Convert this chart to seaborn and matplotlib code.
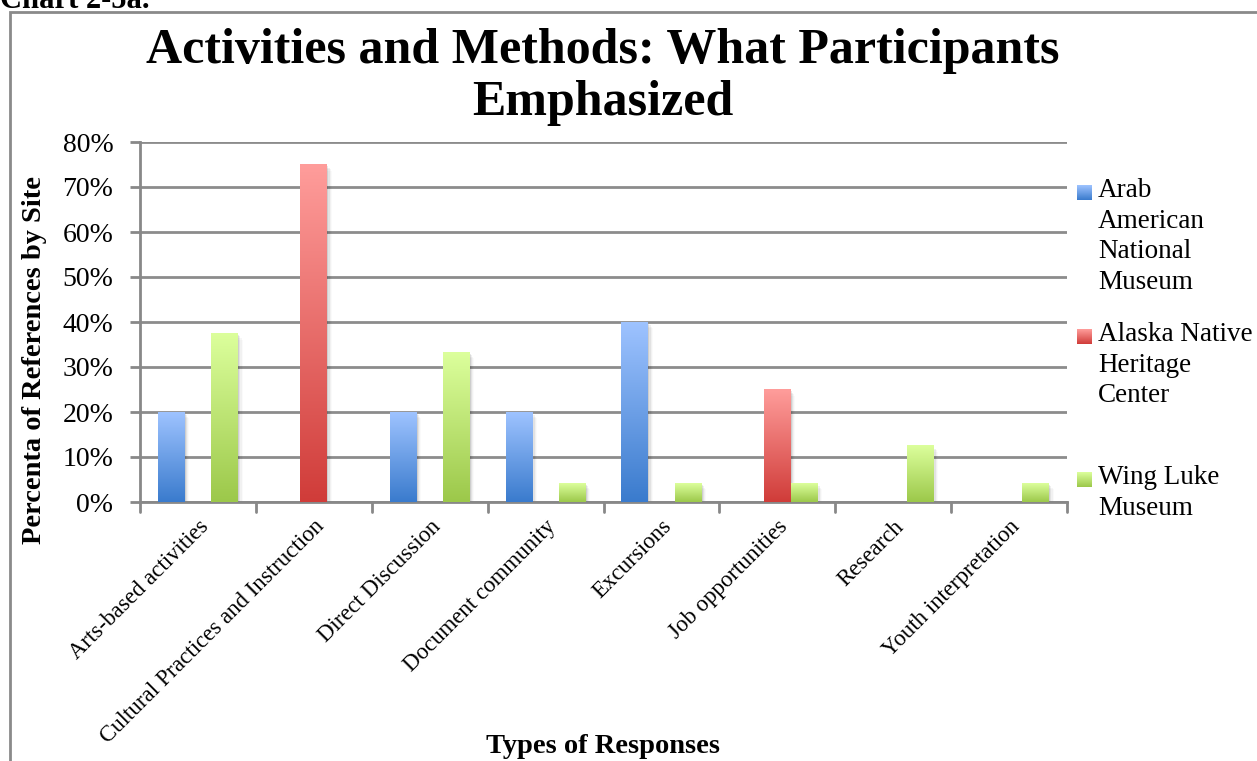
import numpy as np
import pandas as pd
import matplotlib
matplotlib.use("Agg")
import matplotlib.pyplot as plt
import seaborn as sns
from matplotlib.patches import Rectangle
from matplotlib.colors import LinearSegmentedColormap

# Data
categories = [
    "Arts-based activities",
    "Cultural Practices and Instruction",
    "Direct Discussion",
    "Document community",
    "Excursions",
    "Job opportunities",
    "Research",
    "Youth interpretation",
]
sites = ["Arab American National Museum", "Alaska Native Heritage Center", "Wing Luke Museum"]
legend_labels = ["Arab\nAmerican\nNational\nMuseum", "Alaska Native\nHeritage\nCenter", "Wing Luke\nMuseum"]
arab_values = [20.0, 0.0, 20.0, 20.0, 40.0, 0.0, 0.0, 0.0]
alaska_values = [0.0, 75.0, 0.0, 0.0, 0.0, 25.0, 0.0, 0.0]
wingluke_values = [37.5, 0.0, 33.3, 4.2, 4.2, 4.2, 12.5, 4.2]
y_ticks = [0, 10, 20, 30, 40, 50, 60, 70, 80]
y_tick_labels = ["0%", "10%", "20%", "30%", "40%", "50%", "60%", "70%", "80%"]

# gradient endpoints (top colour, bottom colour) per site
gradients = {
    sites[0]: ("#9ec3ff", "#3a7bcd"),
    sites[1]: ("#ff9d9b", "#d03c39"),
    sites[2]: ("#dcff9c", "#9cc84a"),
}

df = pd.DataFrame({
    "category": categories * 3,
    "site": [sites[0]] * 8 + [sites[1]] * 8 + [sites[2]] * 8,
    "value": arab_values + alaska_values + wingluke_values,
})

sns.set_theme(style="white")
plt.rcParams["font.family"] = ["Liberation Serif", "DejaVu Serif"]
for key in ["text.color", "axes.labelcolor", "xtick.labelcolor", "ytick.labelcolor"]:
    plt.rcParams[key] = "black"

W, H = 1257, 761
fig = plt.figure(figsize=(W / 100, H / 100), dpi=100)
ax = fig.add_axes([140 / W, 1 - 502 / H, (1067 - 140) / W, (502 - 142) / H])

sns.barplot(data=df, x="category", y="value", hue="site", order=categories,
            hue_order=sites, width=0.69, dodge=True, linewidth=0,
            palette=[gradients[s][1] for s in sites], ax=ax, legend=False,
            errorbar=None)

# replace flat bars with vertical gradients and a soft drop shadow
grad = np.linspace(0, 1, 256).reshape(-1, 1)
for site, container in zip(sites, ax.containers):
    top_c, bot_c = gradients[site]
    cmap = LinearSegmentedColormap.from_list(site, [bot_c, top_c])
    for bar in container:
        h = bar.get_height()
        bar.set_visible(False)
        if not h or h <= 0:
            continue
        x0, w = bar.get_x(), bar.get_width()
        for k, a in enumerate([0.09, 0.06, 0.035, 0.02]):
            dx = w * 0.045 * (k + 1)
            ax.add_patch(Rectangle((x0 + dx, 0), w, max(h - 0.35 * (k + 1), 0),
                                   facecolor="black", alpha=a, linewidth=0, zorder=2))
        ax.imshow(grad, cmap=cmap, origin="lower", aspect="auto",
                  extent=(x0, x0 + w, 0, h), zorder=3, interpolation="bicubic")

ax.set_xlim(-0.5, len(categories) - 0.5)
ax.set_ylim(0, 80)
ax.set_yticks(y_ticks)
ax.set_yticklabels(y_tick_labels, fontsize=20)
ax.set_xticks(range(len(categories)))
ax.set_xticklabels(categories, rotation=45, ha="right", rotation_mode="anchor",
                   fontsize=16.5)
ax.tick_params(axis="x", length=0, pad=10)
ax.tick_params(axis="y", length=7.2, width=2, color="#888888", left=True, pad=12)

# category boundary ticks on the x axis
for b in np.arange(-0.5, len(categories) + 0.5, 1.0):
    ax.plot([b, b], [0, -2.2], color="#888888", lw=2, clip_on=False, zorder=1)

ax.yaxis.grid(True, color="#8c8c8c", linewidth=2)
ax.set_axisbelow(True)
for side in ["top", "right"]:
    ax.spines[side].set_visible(False)
for side in ["left", "bottom"]:
    ax.spines[side].set_color("#888888")
    ax.spines[side].set_linewidth(2)

ax.set_xlabel("Types of Responses", fontsize=20.5, fontweight="bold")
ax.xaxis.set_label_coords(0.5, -(734 - 502) / (502 - 142))
ax.set_ylabel("Percenta of References by Site", fontsize=20.5, fontweight="bold")
ax.yaxis.set_label_coords(-(140 - 47) / (1067 - 140), (502 - 360) / (502 - 142))

# title
fig.text(603 / W, 1 - 28 / H, "Activities and Methods: What Participants\nEmphasized",
         ha="center", va="top", fontsize=36, fontweight="bold", linespacing=1.17)

# caption above the frame
fig.text(0, 1 - 8 / H, "Chart 2-5a.", ha="left", va="baseline", fontsize=22,
         fontweight="bold")

# outer frame
fig.patches.append(Rectangle((10 / W, -0.05), 1.2, 1 - 12 / H + 0.05,
                             transform=fig.transFigure, fill=False,
                             edgecolor="#8a8a8a", linewidth=2))

# legend
legend_tops = [185, 329, 472]
for site, label, ytop in zip(sites, legend_labels, legend_tops):
    top_c, bot_c = gradients[site]
    cmap = LinearSegmentedColormap.from_list(site + "_leg", [bot_c, top_c])
    lax = fig.add_axes([1077 / W, 1 - (ytop + 15) / H, 15 / W, 15 / H])
    lax.imshow(np.linspace(0, 1, 64).reshape(-1, 1), cmap=cmap, origin="lower",
               aspect="auto")
    lax.axis("off")
    fig.text(1098 / W, 1 - (ytop - 7) / H, label, ha="left", va="top",
             fontsize=19.5, linespacing=1.29)

fig.savefig("out.png", dpi=100)
